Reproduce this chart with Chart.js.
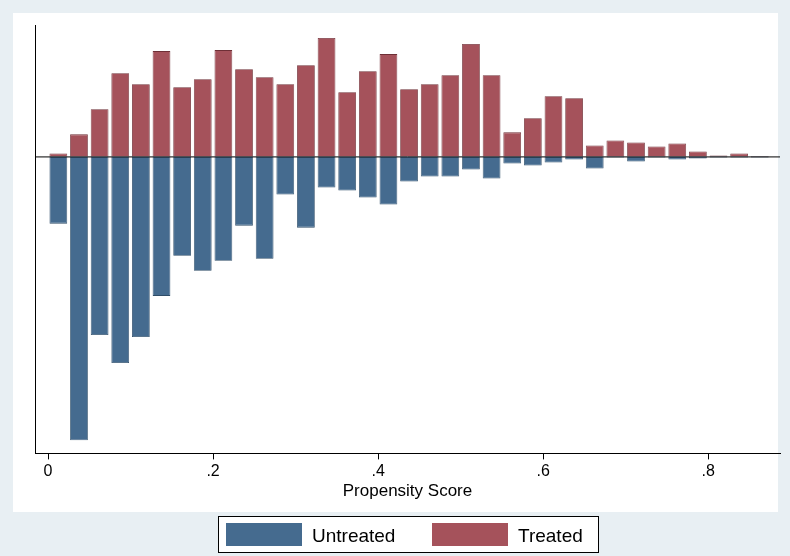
<!DOCTYPE html>
<html><head><meta charset="utf-8">
<script src="https://cdn.jsdelivr.net/npm/chart.js@4/dist/chart.umd.min.js"></script>
<style>html,body{margin:0;padding:0;background:#e8eff3}</style>
</head><body>
<canvas id="c" width="790" height="556"></canvas>
<script>
// bin centres (width .025) and counts
const bins = [];
for (let k = 0; k < 35; k++) bins.push(0.0125 + 0.025 * k);
const treated = [3,22,47,83,72,105,69,77,106,87,79,72,91,118,64,85,102,67,72,81,112,81,24,38,60,58,11,16,14,10,13,5,1,3,0.5];
const untreated = [67,283,178,206,180,139,99,114,104,69,102,38,71,31,34,41,48,25,20,20,13,22,7,9,6,3,12,1,5,1,3,2,1,1,1];
const xTicks = [0, 0.2, 0.4, 0.6, 0.8];
const xTickLabels = ['0', '.2', '.4', '.6', '.8'];

const blue = '#456b8f', red = '#a5525b';

const frame = {
    id: 'frame',
    beforeDraw(chart) {
        let ctx = chart.ctx;
        ctx.save();
        ctx.fillStyle = '#e8eff3';
        ctx.fillRect(0, 0, 790, 556);
        ctx.fillStyle = '#fff';
        ctx.fillRect(13, 13, 765, 499);
        ctx.restore();
    },
    afterDatasetsDraw(chart) {
        let ctx = chart.ctx, a = chart.chartArea, y0 = chart.scales.y.getPixelForValue(0);
        ctx.save();
        ctx.strokeStyle = '#000'; ctx.lineWidth = 1;
        ctx.beginPath(); ctx.moveTo(a.left, y0 + 0.5); ctx.lineTo(a.right, y0 + 0.5); ctx.stroke();
        // legend
        ctx.fillStyle = '#fff'; ctx.fillRect(218, 516, 381, 37);
        ctx.strokeStyle = '#000'; ctx.strokeRect(218.5, 516.5, 380, 36);
        ctx.fillStyle = blue; ctx.fillRect(226, 523, 76, 23);
        ctx.fillStyle = red; ctx.fillRect(432, 523, 76, 23);
        ctx.fillStyle = '#000'; ctx.font = '19px "Liberation Sans", Arial'; ctx.textBaseline = 'middle';
        ctx.fillText('Untreated', 312, 537);
        ctx.fillText('Treated', 518, 537);
        ctx.restore();
    }
};

new Chart(document.getElementById('c'), {
    type: 'bar',
    data: {
        datasets: [
            { label: 'Untreated', data: bins.map((x, i) => ({x: x, y: -untreated[i]})), backgroundColor: blue, borderColor: '#2f4d68', borderWidth: 0.8 },
            { label: 'Treated', data: bins.map((x, i) => ({x: x, y: treated[i]})), backgroundColor: red, borderColor: '#6e2f36', borderWidth: 0.8 },
        ]
    },
    options: {
        responsive: false,
        animation: false,
        barPercentage: 0.86,
        categoryPercentage: 1,
        layout: { padding: { left: 27, right: 10, top: 25, bottom: 54 } },
        plugins: { legend: { display: false }, tooltip: { enabled: false } },
        scales: {
            x: {
                type: 'linear', stacked: true, min: -0.0158, max: 0.887, offset: false,
                afterBuildTicks: s => { s.ticks = xTicks.map(v => ({value: v})); },
                ticks: { color: '#000', font: { size: 16, family: '"Liberation Sans", Arial' }, padding: 3,
                    callback: (v) => xTickLabels[xTicks.indexOf(v)] },
                grid: { display: true, offset: false, drawOnChartArea: false, drawTicks: true, tickLength: 6, tickColor: '#000' },
                border: { color: '#000' },
                title: { display: true, text: 'Propensity Score', color: '#000', padding: { top: -3, bottom: 0 },
                    font: { size: 17, family: '"Liberation Sans", Arial' } }
            },
            y: {
                stacked: true, min: -296, max: 131,
                ticks: { display: false },
                grid: { display: false },
                border: { color: '#000' }
            }
        }
    },
    plugins: [frame]
});
</script>
</body></html>
